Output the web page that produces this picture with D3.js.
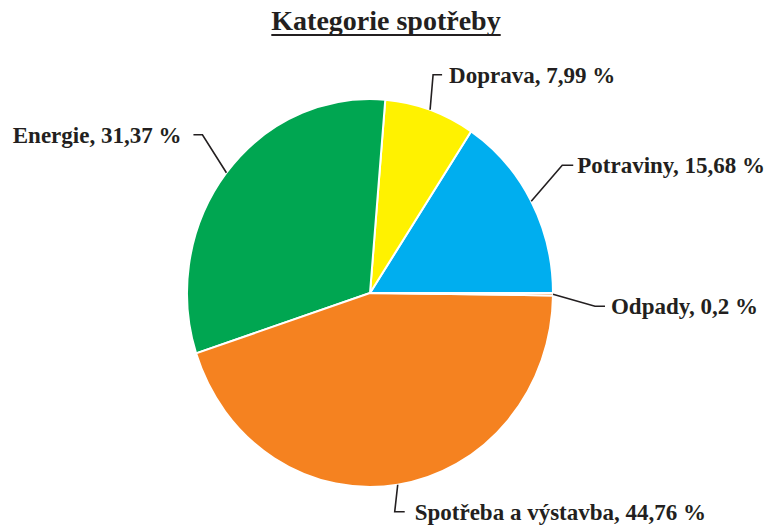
<!DOCTYPE html>
<html>
<head>
<meta charset="utf-8">
<script src="https://cdn.jsdelivr.net/npm/d3@7"></script>
<style>
  body { margin: 0; background: #fff; }
  text { font-family: "Liberation Serif", "DejaVu Serif", serif; font-weight: bold; fill: #231f20; }
</style>
</head>
<body>
<div id="chart"></div>
<script>
// data
var categories = ["Potraviny", "Doprava", "Energie", "Spotřeba a výstavba", "Odpady"];
var shares = [15.68, 7.99, 31.37, 44.76, 0.2];
var colors = ["#00aeef", "#fff200", "#00a651", "#f58220", "#f58220"];
var titleText = "Kategorie spotřeby";

// leader layout: elbow offset from the slice edge, horizontal stub, gap to text, text side
var leaders = [
  {dx: 31, dy: -36, stub: 11, gap: 4, side: 1},
  {dx: 3, dy: -35, stub: 9, gap: 7, side: 1},
  {dx: -24, dy: -38, stub: -9, gap: 12, side: -1},
  {dx: -3, dy: 27, stub: 10, gap: 10, side: 1},
  {dx: 42, dy: 12, stub: 10, gap: 6, side: 1}
];

var w = 771, h = 530;
var cx = 370, cy = 293, r = 183, sy = 1.06;

var fmt = d3.formatLocale({decimal: ",", thousands: " ", grouping: [3], currency: ["", ""]}).format("~f");

var svg = d3.select("#chart").append("svg")
  .attr("width", w).attr("height", h);

// title
var title = svg.append("text")
  .attr("x", 386).attr("y", 30)
  .attr("text-anchor", "middle")
  .attr("font-size", 28)
  .text(titleText);
var tb = title.node().getBBox();
svg.append("line")
  .attr("x1", tb.x).attr("x2", tb.x + tb.width)
  .attr("y1", 35).attr("y2", 35)
  .attr("stroke", "#231f20").attr("stroke-width", 2);

var data = categories.map(function(c, i) { return {name: c, value: shares[i], color: colors[i]}; });

// pie starts at 3 o'clock and runs counterclockwise
var pie = d3.pie().sort(null).value(function(d) { return d.value; })
  .startAngle(Math.PI / 2).endAngle(Math.PI / 2 - 2 * Math.PI);
var arcs = pie(data);
var arc = d3.arc().innerRadius(0).outerRadius(r);

var g = svg.append("g")
  .attr("transform", "translate(" + cx + "," + cy + ") scale(1," + sy + ")");
g.selectAll("path")
  .data(arcs)
  .enter()
  .append("path")
  .attr("d", arc)
  .attr("fill", function(d) { return d.data.color; })
  .attr("stroke", "#fff")
  .attr("stroke-width", 2)
  .attr("vector-effect", "non-scaling-stroke");

// leader lines and labels
arcs.forEach(function(d, i) {
  var a = (d.startAngle + d.endAngle) / 2;
  var x0 = cx + r * Math.sin(a), y0 = cy - r * sy * Math.cos(a);
  var L = leaders[i];
  var x1 = x0 + L.dx, y1 = y0 + L.dy, x2 = x1 + L.stub;
  svg.append("path")
    .attr("d", "M" + x0 + "," + y0 + "L" + x1 + "," + y1 + "L" + x2 + "," + y1)
    .attr("fill", "none")
    .attr("stroke", "#231f20")
    .attr("stroke-width", 1.6);
  svg.append("text")
    .attr("x", x2 + L.side * L.gap)
    .attr("y", y1 + 8)
    .attr("text-anchor", L.side > 0 ? "start" : "end")
    .attr("font-size", 23)
    .text(d.data.name + ", " + fmt(d.data.value) + " %");
});
</script>
</body>
</html>
